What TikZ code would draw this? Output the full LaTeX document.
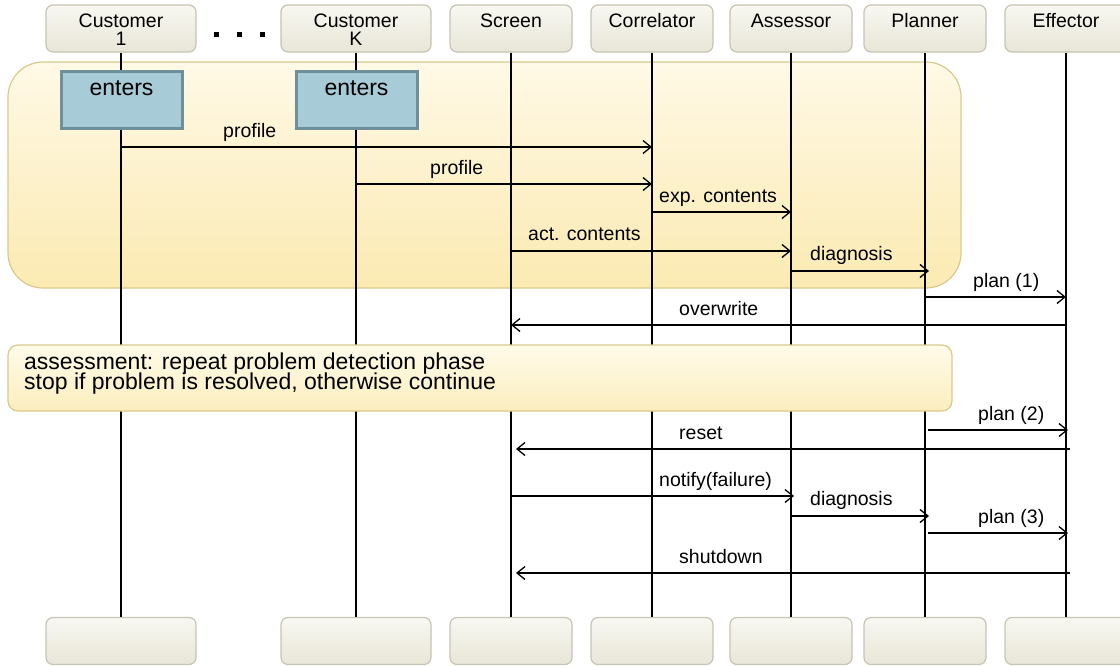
\documentclass[tikz,border=0pt]{standalone}
\usepackage{fontspec}
\setmainfont{Liberation Sans}
\usetikzlibrary{arrows.meta,calc}
\definecolor{hdrtop}{HTML}{F8F7F1}
\definecolor{hdrbot}{HTML}{E8E6D7}
\definecolor{hdrline}{HTML}{C6C4B2}
\definecolor{grptop}{HTML}{FFF9E6}
\definecolor{grpbot}{HTML}{FBEAB2}
\definecolor{grpline}{HTML}{D8CA8C}
\definecolor{notetop}{HTML}{FFFBEA}
\definecolor{notebot}{HTML}{FBEDBD}
\definecolor{entfill}{HTML}{A8CCD7}
\definecolor{entline}{HTML}{6F8F9B}
\newcommand{\notefont}{\fontsize{23}{20}\selectfont\lineskiplimit=-20pt\relax}
\tikzset{
  hdr/.style={draw=hdrline, line width=1.2pt, rounded corners=7pt,
    top color=hdrtop, bottom color=hdrbot, minimum height=47pt,
    inner sep=0pt, text height=12pt, text depth=15pt,
    font=\fontsize{19.5}{18}\selectfont},
  hdrw/.style={hdr, minimum width=122pt},
  hdrc/.style={hdr, minimum width=150pt},
  grpbox/.style={draw=grpline, line width=1.2pt, rounded corners=35pt,
    top color=grptop, bottom color=grpbot, inner sep=0pt},
  notebox/.style={draw=grpline, line width=1.2pt, rounded corners=10pt,
    top color=notetop, bottom color=notebot, inner sep=0pt},
  ent/.style={draw=entline, line width=3pt, fill=entfill,
    minimum width=121pt, minimum height=57pt, inner sep=0pt,
    text height=16pt, text depth=25pt, font=\fontsize{23}{23}\selectfont},
  life/.style={line width=1.2pt, black},
  msg/.style={line width=1.3pt, -{Straight Barb[length=8pt,width=13pt,line width=1.3pt]}},
  lbl/.style={anchor=base west, inner sep=0pt, font=\fontsize{19.5}{20}\selectfont},
}
\newcommand{\twoline}[2]{\begin{tabular}[t]{@{}c@{}}#1\\#2\end{tabular}}
\begin{document}
\begin{tikzpicture}[x=1pt,y=-1pt]
\useasboundingbox (0,0) rectangle (1120,665);
\clip (0,0) rectangle (1120,665);

% group frame
\node[grpbox, minimum width=953pt, minimum height=226pt] (grp) at (484.5,175) {};

% header boxes
\node[hdrc] (c1) at (121,28.5) {\twoline{Customer}{1}};
\node[hdrc] (ck) at (356,28.5) {\twoline{Customer}{K}};
\node[hdrw] (scr) at (511,28.5) {Screen};
\node[hdrw] (cor) at (652,28.5) {Correlator};
\node[hdrw] (ass) at (791,28.5) {Assessor};
\node[hdrw] (pl) at (925,28.5) {Planner};
\node[hdrw] (eff) at (1066,28.5) {Effector};

% dots
\fill (214,32) rectangle +(5,5);
\fill (237,32) rectangle +(5,5);
\fill (260,32) rectangle +(5,5);

% footer boxes
\node[hdrc] (c1f) at (121,641) {};
\node[hdrc] (ckf) at (356,641) {};
\node[hdrw] (scrf) at (511,641) {};
\node[hdrw] (corf) at (652,641) {};
\node[hdrw] (assf) at (791,641) {};
\node[hdrw] (plf) at (925,641) {};
\node[hdrw] (efff) at (1066,641) {};

% lifelines
\foreach \a/\b in {c1/c1f, ck/ckf, scr/scrf, cor/corf, ass/assf, pl/plf, eff/efff}
  \draw[life] (\a) -- (\b);

% enters boxes
\node[ent] (e1) at (121.5,99.5) {enters};
\node[ent] (ek) at (356.5,99.5) {enters};

% note
\node[notebox, minimum width=944pt, minimum height=66pt] (note) at (480,378) {};
\node[anchor=base west, inner sep=0pt, align=left, font=\notefont] (notetxt) at (24,389)
  {assessment: repeat problem detection phase\\stop if problem is resolved, otherwise continue};

% message levels
\foreach \n/\y in {1/147, 2/184, 3/212, 4/251, 5/271, 6/297, 7/325,
                   8/430, 9/449, 10/496, 11/516, 12/533, 13/573}
  \coordinate (y\n) at (0,\y);

\draw[msg] (c1 |- y1) -- (cor |- y1);
\node[lbl] at (223,137) {profile};
\draw[msg] (ck |- y2) -- (cor |- y2);
\node[lbl] at (430,174) {profile};
\draw[msg] (cor |- y3) -- (ass |- y3);
\node[lbl] at (659,202) {exp. contents};
\draw[msg] (scr |- y4) -- (ass |- y4);
\node[lbl] at (528,240) {act. contents};
\draw[msg] (ass |- y5) -- ($(pl |- y5)+(4,0)$);
\node[lbl] at (810,260) {diagnosis};
\draw[msg] (pl |- y6) -- (eff |- y6);
\node[lbl] at (973,287) {plan (1)};
\draw[msg] (eff |- y7) -- (scr |- y7);
\node[lbl] at (679,315) {overwrite};

\draw[msg] ($(pl |- y8)+(3,0)$) -- ($(eff |- y8)+(2,0)$);
\node[lbl] at (978,420) {plan (2)};
\draw[msg] ($(eff |- y9)+(4,0)$) -- ($(scr |- y9)+(5,0)$);
\node[lbl] at (679,439) {reset};
\draw[msg] (scr |- y10) -- ($(ass |- y10)+(3,0)$);
\node[lbl] at (659,486) {notify(failure)};
\draw[msg] (ass |- y11) -- ($(pl |- y11)+(4,0)$);
\node[lbl] at (810,505) {diagnosis};
\draw[msg] ($(pl |- y12)+(3,0)$) -- ($(eff |- y12)+(2,0)$);
\node[lbl] at (978,523) {plan (3)};
\draw[msg] ($(eff |- y13)+(4,0)$) -- ($(scr |- y13)+(5,0)$);
\node[lbl] at (679,563) {shutdown};
\end{tikzpicture}
\end{document}
